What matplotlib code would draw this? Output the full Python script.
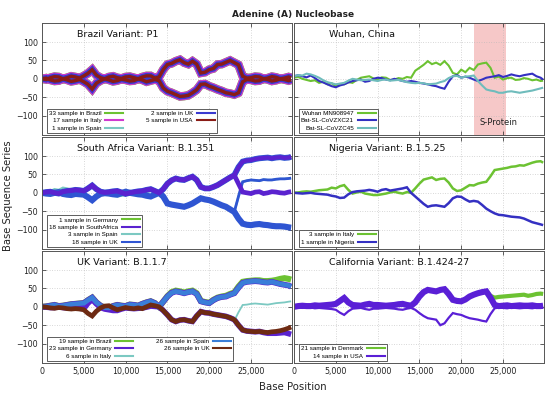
import matplotlib
matplotlib.use("Agg")
import matplotlib.pyplot as plt
from matplotlib.lines import Line2D
from matplotlib.ticker import FuncFormatter

# ---------------- data ----------------
# readings at whole thousands (last one at the sequence end) ...
base_pos = [0, 1000, 2000, 3000, 4000, 5000, 6000, 7000, 8000, 9000,
            10000, 11000, 12000, 13000, 14000, 15000, 16000, 17000, 18000, 19000,
            20000, 21000, 22000, 23000, 24000, 25000, 26000, 27000, 28000, 29000, 29800]
# ... and readings half-way between them
mid_pos = [500, 1500, 2500, 3500, 4500, 5500, 6500, 7500, 8500, 9500,
           10500, 11500, 12500, 13500, 14500, 15500, 16500, 17500, 18500, 19500,
           20500, 21500, 22500, 23500, 24500, 25500, 26500, 27500, 28500, 29500]

# Brazil Variant: P1
brazil_upper = [0, 3, 5, 3, 5, 8, 25, 3, 5, 3, 5, 3, 5, 8, 5, 39, 48, 44, 48, 16,
                25, 39, 45, 44, 7, 3, 5, 2, 4, 2, 3]
brazil_upper_mid = [-2, 6, 0, 7, 2, 15, 10, 0, 7, 1, 6, 0, 8, 2, 25,
                    42, 52, 40, 40, 18, 28, 40, 50, 38, 2, 6, 0, 6, 0, 5]
brazil_lower = [0, -3, -5, -3, -5, -8, -28, -5, -3, -5, -3, -5, -3, -5, -5, -34, -43, -47, -38, -15,
                -20, -29, -38, -43, -8, -3, -5, -2, -4, -2, -3]
brazil_lower_mid = [2, -6, 0, -7, -2, -15, -12, 0, -7, -1, -6, 0, -8, -2, -25,
                    -38, -48, -45, -30, -14, -24, -33, -40, -38, -2, -6, 0, -6, 0, -5]

# Wuhan, China
wuhan_mn908947 = [3, 0, -6, -11, -15, -20, -15, -11, 3, 7, -2, 3, -2, 0, 3, 30, 48, 44, 48, 16,
                  25, 30, 39, 44, 3, -2, 3, -2, 0, -2, -5]
wuhan_mn908947_mid = [5, -3, -4, -8, -12, -14, -9, -3, 5, 1, 4, -3, 2, 5, 22,
                      38, 40, 38, 36, 12, 18, 24, 42, 30, 6, 2, -3, 2, -4, -6]
bat_zxc21 = [7, 7, 9, -6, -15, -23, -15, -6, -2, -6, 3, -2, 0, -6, -6, -11, -15, -20, -27, 7,
             3, 3, -6, 3, 7, 5, 12, 7, 12, 7, -2]
bat_zxc21_mid = [10, 4, 2, -10, -20, -18, -10, -4, -8, 0, 2, -4, -3, -8, -8,
                 -13, -18, -24, -8, 10, 6, -2, -2, 5, 10, 8, 9, 10, 14, 3]
bat_zxc45 = [7, 9, 12, 3, -9, -15, -11, 0, -4, -2, -6, -2, -4, -6, -11, -11, -15, -13, -6, 7,
             3, 7, -6, -29, -34, -38, -34, -38, -34, -29, -24]
bat_zxc45_mid = [10, 14, 8, -4, -12, -13, -5, -2, -3, -4, -3, -5, -3, -9, -12,
                 -12, -14, -9, 2, 8, 6, 9, -18, -32, -38, -35, -36, -36, -32, -26]

# South Africa Variant: B.1.351
sa_up = [0, 3, -2, 5, 8, 5, 20, 3, 2, 5, -3, 2, 5, 10, 0, 25, 39, 35, 44, 16,
         12, 21, 35, 48, 85, 89, 94, 96, 96, 95, 98]
sa_up_mid = [2, 0, 3, 6, 7, 12, 10, 1, 4, 1, 0, 4, 8, 5, 10,
             34, 36, 40, 35, 12, 16, 28, 42, 70, 88, 92, 95, 94, 97, 96]
sa_zero = [0, 3, -2, 5, 8, 5, 20, 3, 2, 5, -3, 2, 5, 10, 0, 25, 39, 35, 44, 16,
           12, 21, 35, 48, 2, -2, 3, 0, 2, -1, 3]
sa_zero_mid = [2, 0, 3, 6, 7, 12, 10, 1, 4, 1, 0, 4, 8, 5, 10,
               34, 36, 40, 35, 12, 16, 28, 42, 25, 0, 2, -2, 3, 0, 2]
sa_mid = [0, -3, 2, -5, -3, -5, -20, -3, -2, -5, 3, -2, -5, -10, 0, -29, -34, -38, -29, -15,
          -20, -29, -38, -52, 30, 35, 33, 35, 37, 38, 40]
sa_mid_mid = [-2, 0, -3, -6, -4, -12, -10, -1, -4, -1, 0, -4, -8, -5, -10,
              -32, -36, -34, -22, -18, -24, -34, -45, -10, 33, 34, 36, 35, 38, 39]
sa_low = [0, -3, 2, -5, -3, -5, -20, -3, -2, -5, 3, -2, -5, -10, 0, -29, -34, -38, -29, -15,
          -20, -29, -38, -52, -84, -88, -85, -88, -91, -92, -95]
sa_low_mid = [-2, 0, -3, -6, -4, -12, -10, -1, -4, -1, 0, -4, -8, -5, -10,
              -32, -36, -34, -22, -18, -24, -34, -45, -70, -87, -86, -87, -90, -91, -94]
sa_spain = [0, 5, 8, 12, 10, 5, 15, 0, -5, -10, -6, -5, 0, 5, 0, -29, -34, -38, -29, -15,
            -20, -29, -38, -52, 30, 35, 33, 35, 37, 38, 40]
sa_spain_mid = [3, 10, 14, 8, 6, 12, 5, -3, -8, -8, -5, -2, 3, 2, -10,
                -32, -36, -34, -22, -18, -24, -34, -45, -10, 33, 34, 36, 35, 38, 39]

# Nigeria Variant: B.1.5.25
ng_italy = [0, 3, 3, 7, 9, 12, 21, -2, 3, -4, -6, -2, 3, -2, 0, 25, 39, 35, 39, 12,
            7, 21, 25, 30, 62, 66, 71, 75, 78, 85, 82]
ng_italy_mid = [1, 4, 5, 8, 14, 18, 8, 1, -2, -6, -4, 1, 0, 2, 12,
                36, 42, 38, 28, 5, 14, 20, 28, 45, 64, 68, 72, 74, 82, 86]
ng_nigeria = [0, -2, 0, -3, -5, -10, -13, 2, 5, 8, 3, 10, 8, 12, 0, -20, -38, -34, -38, -15,
              -11, -24, -24, -43, -56, -61, -65, -67, -75, -83, -88]
ng_nigeria_mid = [-1, -1, -2, -4, -8, -14, -4, 4, 6, 6, 8, 6, 10, 15, -10,
                  -30, -35, -36, -28, -10, -18, -22, -33, -50, -60, -63, -66, -70, -80, -86]

# UK Variant: B.1.1.7
uk_up = [0, 3, 2, 5, 8, 10, 25, 3, -3, 5, 2, 5, 8, 15, 0, 28, 42, 37, 42, 15,
         10, 24, 28, 37, 65, 69, 69, 66, 65, 60, 55]
uk_up_mid = [1, 5, 3, 7, 9, 18, 12, -2, 2, 3, 6, 3, 12, 10, 14,
             38, 40, 40, 35, 12, 18, 27, 33, 52, 68, 70, 67, 68, 62, 58]
uk_brazil = [0, 3, 2, 5, 8, 10, 25, 3, -3, 5, 2, 5, 8, 15, 0, 29, 44, 39, 44, 16,
             11, 25, 30, 39, 68, 71, 72, 70, 73, 78, 74]
uk_brazil_mid = [1, 5, 3, 7, 9, 18, 12, -2, 2, 3, 6, 3, 12, 10, 14,
                 40, 42, 42, 37, 13, 19, 28, 35, 55, 70, 72, 70, 71, 76, 76]
uk_low = [0, -3, -2, -5, -5, -8, -25, -3, 3, -8, -2, -5, -5, 5, 0, -22, -40, -35, -40, -13,
          -17, -22, -26, -35, -63, -67, -67, -70, -67, -62, -55]
uk_low_mid = [-1, -4, -3, -6, -6, -18, -12, 2, -3, -5, -4, -3, 0, 3, -10,
              -35, -36, -38, -25, -16, -20, -24, -30, -50, -66, -68, -69, -68, -65, -58]
uk_germany_low = [0, -2, 0, -3, -3, -5, 20, -2, -8, -10, -3, -5, -3, 2, 0, -22, -40, -35, -40, -13,
                  -17, -22, -26, -35, -63, -67, -67, -72, -72, -70, -75]
uk_germany_low_mid = [-1, -2, -2, -4, -4, 10, 8, -6, -10, -6, -4, -4, -1, 1, -10,
                      -35, -36, -38, -25, -16, -20, -24, -30, -50, -66, -68, -70, -72, -71, -73]
uk_italy = [0, -3, -2, -5, -5, -8, -25, -3, 3, -8, -2, -5, -5, 5, 0, -22, -40, -35, -40, -13,
            -17, -22, -26, -38, 5, 8, 8, 6, 10, 12, 15]
uk_italy_mid = [-1, -4, -3, -6, -6, -18, -12, 2, -3, -5, -4, -3, 0, 3, -10,
                -35, -36, -38, -25, -16, -20, -24, -30, -15, 6, 9, 7, 8, 11, 14]

# California Variant: B.1.424-27
ca_upper = [0, 3, 2, 3, 5, 8, 24, 5, 3, 8, 5, 3, 5, 8, 3, 28, 46, 42, 48, 19,
            15, 28, 37, 42, 5, 3, 2, 4, 3, 2, 3]
ca_upper_mid = [2, 2, 4, 4, 6, 16, 12, 4, 6, 5, 4, 4, 7, 5, 12,
                40, 44, 46, 35, 16, 20, 33, 40, 25, 2, 4, 3, 3, 4, 2]
ca_lower = [0, -3, -2, -3, -5, -8, -22, -5, -3, -8, -5, -3, -5, -8, -3, -17, -31, -35, -45, -17,
            -22, -31, -35, -40, -4, -3, -2, -4, -3, -2, -3]
ca_lower_mid = [-2, -2, -4, -4, -6, -16, -12, -4, -6, -5, -4, -4, -7, -5, -8,
                -25, -33, -50, -30, -20, -27, -33, -38, -20, -2, -4, -3, -3, -4, -2]
ca_denmark = [0, 3, 2, 3, 5, 8, 24, 5, 3, 8, 5, 3, 5, 8, 3, 28, 46, 42, 48, 19,
              15, 28, 37, 42, 25, 28, 30, 32, 30, 35, 35]
ca_denmark_mid = [2, 2, 4, 4, 6, 16, 12, 4, 6, 5, 4, 4, 7, 5, 12,
                  40, 44, 46, 35, 16, 20, 33, 40, 30, 27, 29, 31, 33, 32, 36]

x_ticks = [0, 5000, 10000, 15000, 20000, 25000]
y_ticks = [-100, -50, 0, 50, 100]
s_protein = (21563, 25384)

panel_titles = ["Brazil Variant: P1", "Wuhan, China",
                "South Africa Variant: B.1.351", "Nigeria Variant: B.1.5.25",
                "UK Variant: B.1.1.7", "California Variant: B.1.424-27"]


def trace(coarse, mid):
    """Merge the whole-thousand and half-way readings into one ordered trace."""
    xs, ys = [], []
    for k in range(len(mid)):
        xs += [base_pos[k], mid_pos[k]]
        ys += [coarse[k], mid[k]]
    xs.append(base_pos[-1])
    ys.append(coarse[-1])
    return xs, ys


# ---------------- styles ----------------
GREEN = "#6cc232"
PURPLE = "#5a22cf"
BLUE = "#2f55d2"
LBLUE = "#3a7ed8"
TEAL = "#7cc9c2"
DRED = "#8a1c16"
BROWN = "#6e2a12"
MAGENTA = "#d03ad0"
NAVY = "#3430c2"

B_UP = trace(brazil_upper, brazil_upper_mid)
B_LO = trace(brazil_lower, brazil_lower_mid)
SA_UP = trace(sa_up, sa_up_mid)
SA_ZERO = trace(sa_zero, sa_zero_mid)
SA_MID = trace(sa_mid, sa_mid_mid)
SA_LOW = trace(sa_low, sa_low_mid)
UK_UP = trace(uk_up, uk_up_mid)

# (label, color, [(trace, linewidth), ...])
panels = [
    [("33 sample in Brazil", GREEN, [(B_UP, 6.2), (B_LO, 6.2)]),
     ("17 sample in Italy", MAGENTA, [(B_UP, 6.0), (B_LO, 6.0)]),
     ("1 sample in Spain", TEAL, [(B_UP, 1.0), (B_LO, 1.0)]),
     ("2 sample in UK", "#3a3ad0", [(B_UP, 4.4), (B_LO, 4.4)]),
     ("5 sample in USA", DRED, [(B_UP, 2.4), (B_LO, 2.4)])],
    [("Wuhan MN908947", GREEN, [(trace(wuhan_mn908947, wuhan_mn908947_mid), 1.5)]),
     ("Bat-SL-CoVZXC21", NAVY, [(trace(bat_zxc21, bat_zxc21_mid), 1.5)]),
     ("Bat-SL-CoVZC45", "#6fbcbc", [(trace(bat_zxc45, bat_zxc45_mid), 1.5)])],
    [("1 sample in Germany", GREEN, [(SA_UP, 2.0)]),
     ("3 sample in Spain", TEAL, [(trace(sa_spain, sa_spain_mid), 1.6)]),
     ("18 sample in UK", BLUE, [(SA_LOW, 4.4), (SA_MID, 2.0), (SA_UP, 4.2)]),
     ("18 sample in SouthAfrica", PURPLE, [(SA_UP, 3.0), (SA_ZERO, 3.4)])],
    [("3 sample in Italy", GREEN, [(trace(ng_italy, ng_italy_mid), 1.8)]),
     ("1 sample in Nigeria", NAVY, [(trace(ng_nigeria, ng_nigeria_mid), 1.8)])],
    [("19 sample in Brazil", GREEN, [(trace(uk_brazil, uk_brazil_mid), 4.4)]),
     ("23 sample in Germany", PURPLE, [(UK_UP, 4.2),
                                       (trace(uk_germany_low, uk_germany_low_mid), 4.0)]),
     ("6 sample in Italy", TEAL, [(trace(uk_italy, uk_italy_mid), 1.3)]),
     ("26 sample in Spain", LBLUE, [(UK_UP, 3.4)]),
     ("26 sample in UK", BROWN, [(trace(uk_low, uk_low_mid), 3.4)])],
    [("21 sample in Denmark", GREEN, [(trace(ca_denmark, ca_denmark_mid), 3.0)]),
     ("14 sample in USA", "#5a1fd6", [(trace(ca_upper, ca_upper_mid), 4.4),
                                      (trace(ca_lower, ca_lower_mid), 1.6)])],
]
legend_order = [[0, 1, 2, 3, 4], [0, 1, 2], [0, 3, 1, 2], [0, 1], [0, 1, 2, 3, 4], [0, 1]]
legend_ncol = [2, 1, 1, 1, 2, 1]

W, H = 550, 399
fig = plt.figure(figsize=(W / 100, H / 100), dpi=100)

col_x = [42, 294]
row_top = [23, 137, 251]
pw, ph = 250, 112


def fmt_x(v, pos):
    return "{:,}".format(int(v))


for i, series in enumerate(panels):
    r, c = divmod(i, 2)
    ax = fig.add_axes([col_x[c] / W, 1 - (row_top[r] + ph) / H, pw / W, ph / H])
    ax.set_xlim(0, 29903)
    ax.set_ylim(-153, 152)
    ax.set_axisbelow(True)
    ax.grid(True, color="#b4b4b4", lw=0.5, ls=(0, (1, 2.5)))
    ax.set_xticks(x_ticks)
    ax.set_yticks(y_ticks)
    ax.xaxis.set_major_formatter(FuncFormatter(fmt_x))
    ax.tick_params(direction="in", top=True, right=True, length=3, width=0.5,
                   labelsize=5.7, pad=3, colors="#222222")
    if r != 2:
        ax.tick_params(labelbottom=False)
    if c != 0:
        ax.tick_params(labelleft=False)
    for sp in ax.spines.values():
        sp.set_linewidth(0.7)
        sp.set_color("#555555")

    if i == 1:
        ax.axvspan(s_protein[0], s_protein[1], color="#f6c8c8", lw=0, zorder=0.5)
        ax.text(22150, -120, "S-Protein", fontsize=6, va="center", ha="left",
                color="#222222")

    handles, labels = [], []
    for label, color, tracks in series:
        for (xs, ys), lw in tracks:
            ax.plot(xs, ys, color=color, lw=lw, solid_joinstyle="miter",
                    solid_capstyle="butt", zorder=2)
        handles.append(Line2D([], [], color=color, lw=1.5))
        labels.append(label)
    handles = [handles[k] for k in legend_order[i]]
    labels = [labels[k] for k in legend_order[i]]

    ax.text(0.14, 0.893, panel_titles[i], transform=ax.transAxes, fontsize=6.8,
            va="center", ha="left", color="#111111")

    leg = ax.legend(handles, labels, loc="lower left", bbox_to_anchor=(0.02, 0.02),
                    borderaxespad=0, ncol=legend_ncol[i], markerfirst=False,
                    prop={"family": "Liberation Sans", "size": 4.5},
                    frameon=True, fancybox=False, edgecolor="#444444", framealpha=1,
                    handlelength=2.9, handletextpad=0.6, labelspacing=0.33,
                    borderpad=0.3, columnspacing=3.7)
    leg.get_frame().set_linewidth(0.6)
    leg.set_zorder(5)

fig.text(293 / W, 1 - 14 / H, "Adenine (A) Nucleobase", fontsize=6.5,
         fontweight="bold", ha="center", va="center", color="#222222")
fig.text(293 / W, 1 - 387 / H, "Base Position", fontsize=7.3, ha="center",
         va="center", color="#222222")
fig.text(8 / W, 1 - 196 / H, "Base Sequence Series", fontsize=7.2, rotation=90,
         ha="center", va="center", color="#222222")

fig.savefig("out.png", dpi=100)
